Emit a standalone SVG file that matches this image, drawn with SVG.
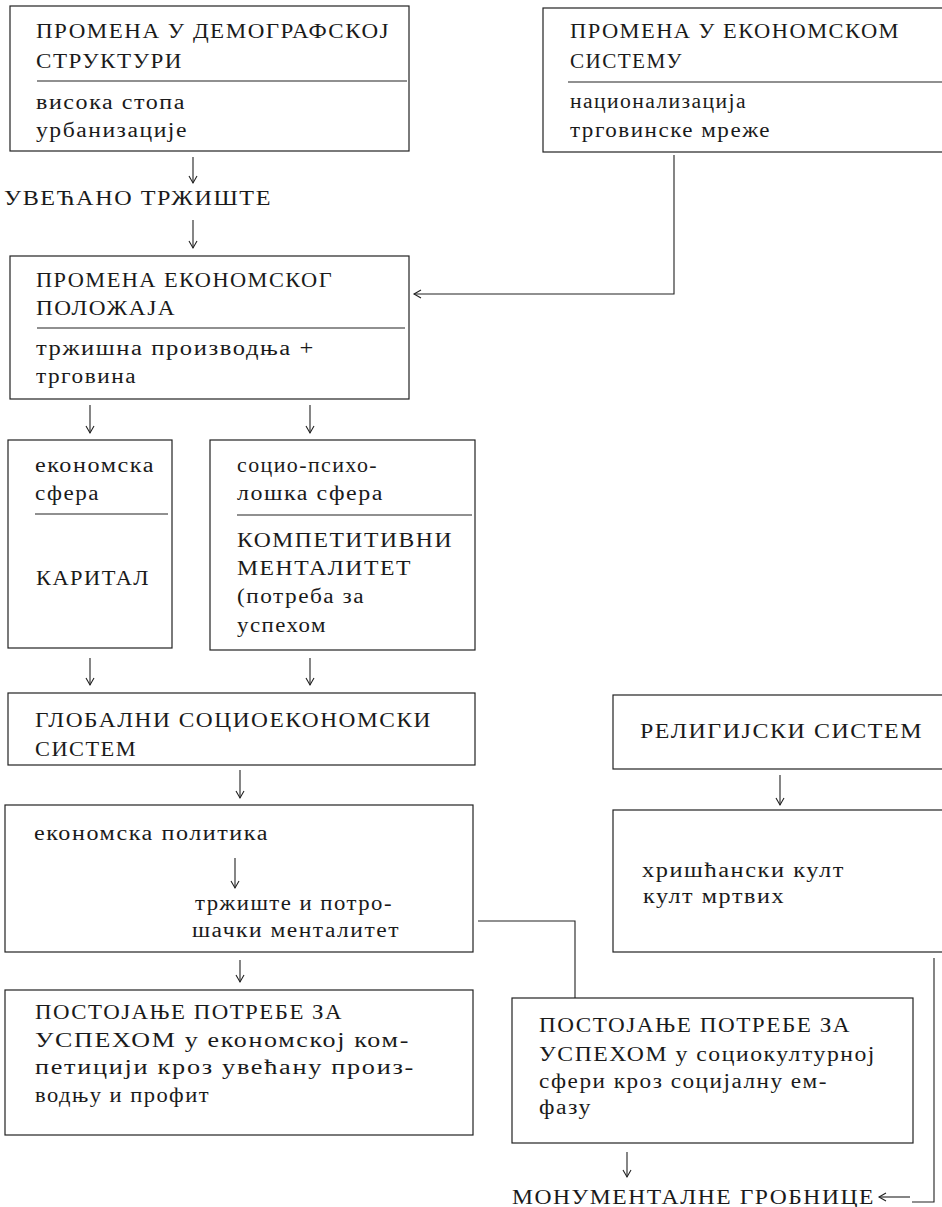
<svg xmlns="http://www.w3.org/2000/svg" width="942" height="1207" viewBox="0 0 942 1207">
<style>
  .box { fill: none; stroke: #222; stroke-width: 1.2; }
  .div { stroke: #222; stroke-width: 1.1; }
  .t { font-family: "Liberation Serif", "Times New Roman", "DejaVu Serif", serif; font-size: 20px; letter-spacing: 1.3px; fill: #1a1a1a; }
  .c { fill: none; stroke: #222; stroke-width: 1.1; }
  .ca { fill: none; stroke: #222; stroke-width: 1.1; marker-end: url(#ah); }
</style>
<defs>
  <marker id="ah" markerUnits="userSpaceOnUse" markerWidth="12" markerHeight="12" refX="0" refY="0" orient="auto" overflow="visible">
    <path d="M-7,-4 L0,0 L-7,4" fill="none" stroke="#222" stroke-width="1.1"/>
  </marker>
</defs>
<rect width="942" height="1207" fill="#ffffff"/>

<g id="connectors">
  <path class="ca" d="M193,157 V183"/>
  <path class="ca" d="M193,220 V248"/>
  <path class="ca" d="M674,155 V294 H414"/>
  <path class="ca" d="M90,405 V433"/>
  <path class="ca" d="M310,405 V433"/>
  <path class="ca" d="M90,658 V685"/>
  <path class="ca" d="M310,658 V685"/>
  <path class="ca" d="M240,770 V798"/>
  <path class="ca" d="M235,858 V888"/>
  <path class="ca" d="M240,960 V982"/>
  <path class="ca" d="M780,775 V805"/>
  <path class="c" d="M478,921 H575 V998"/>
  <path class="ca" d="M627,1152 V1177"/>
  <path class="c" d="M934,958 V1202 H912"/>
  <path class="ca" d="M910,1197 H879"/>
</g>

<g id="n-demografija">
  <rect class="box" x="10" y="6" width="399" height="145"/>
  <line class="div" x1="37" y1="81" x2="407" y2="81"/>
  <text class="t" x="36" y="38" textLength="354" lengthAdjust="spacingAndGlyphs">ПРОМЕНА У ДЕМОГРАФСКОЈ</text>
  <text class="t" x="36" y="68" textLength="147" lengthAdjust="spacingAndGlyphs">СТРУКТУРИ</text>
  <text class="t" x="36" y="109" textLength="150" lengthAdjust="spacingAndGlyphs">висока стопа</text>
  <text class="t" x="36" y="137" textLength="152" lengthAdjust="spacingAndGlyphs">урбанизације</text>
</g>

<g id="n-ekonomski-sistem">
  <rect class="box" x="543" y="8" width="410" height="144"/>
  <line class="div" x1="568" y1="82" x2="942" y2="82"/>
  <text class="t" x="570" y="38" textLength="330" lengthAdjust="spacingAndGlyphs">ПРОМЕНА У ЕКОНОМСКОМ</text>
  <text class="t" x="570" y="68" textLength="113" lengthAdjust="spacingAndGlyphs">СИСТЕМУ</text>
  <text class="t" x="570" y="108" textLength="177" lengthAdjust="spacingAndGlyphs">национализација</text>
  <text class="t" x="570" y="137" textLength="201" lengthAdjust="spacingAndGlyphs">трговинске мреже</text>
</g>

<g id="n-trziste">
  <text class="t" x="4" y="205" textLength="268" lengthAdjust="spacingAndGlyphs">УВЕЋАНО ТРЖИШТЕ</text>
</g>

<g id="n-polozaj">
  <rect class="box" x="10" y="256" width="399" height="143"/>
  <line class="div" x1="37" y1="328" x2="405" y2="328"/>
  <text class="t" x="36" y="287" textLength="297" lengthAdjust="spacingAndGlyphs">ПРОМЕНА ЕКОНОМСКОГ</text>
  <text class="t" x="36" y="315" textLength="140" lengthAdjust="spacingAndGlyphs">ПОЛОЖАЈА</text>
  <text class="t" x="36" y="355" textLength="279" lengthAdjust="spacingAndGlyphs">тржишна производња +</text>
  <text class="t" x="36" y="383" textLength="101" lengthAdjust="spacingAndGlyphs">трговина</text>
</g>

<g id="n-ekonomska-sfera">
  <rect class="box" x="8" y="440" width="164" height="208"/>
  <line class="div" x1="35" y1="514" x2="168" y2="514"/>
  <text class="t" x="35" y="472" textLength="120" lengthAdjust="spacingAndGlyphs">економска</text>
  <text class="t" x="35" y="500" textLength="65" lengthAdjust="spacingAndGlyphs">сфера</text>
  <text class="t" x="36" y="585" textLength="114" lengthAdjust="spacingAndGlyphs">КАРИТАЛ</text>
</g>

<g id="n-socio-sfera">
  <rect class="box" x="210" y="440" width="265" height="210"/>
  <line class="div" x1="237" y1="515" x2="472" y2="515"/>
  <text class="t" x="237" y="472" textLength="141" lengthAdjust="spacingAndGlyphs">социо-психо-</text>
  <text class="t" x="237" y="500" textLength="147" lengthAdjust="spacingAndGlyphs">лошка сфера</text>
  <text class="t" x="237" y="547" textLength="216" lengthAdjust="spacingAndGlyphs">КОМПЕТИТИВНИ</text>
  <text class="t" x="237" y="575" textLength="175" lengthAdjust="spacingAndGlyphs">МЕНТАЛИТЕТ</text>
  <text class="t" x="237" y="603" textLength="128" lengthAdjust="spacingAndGlyphs">(потреба за</text>
  <text class="t" x="237" y="632" textLength="90" lengthAdjust="spacingAndGlyphs">успехом</text>
</g>

<g id="n-globalni">
  <rect class="box" x="8" y="693" width="467" height="72"/>
  <text class="t" x="35" y="727" textLength="397" lengthAdjust="spacingAndGlyphs">ГЛОБАЛНИ СОЦИОЕКОНОМСКИ</text>
  <text class="t" x="35" y="756" textLength="102" lengthAdjust="spacingAndGlyphs">СИСТЕМ</text>
</g>

<g id="n-politika">
  <rect class="box" x="5" y="805" width="468" height="147"/>
  <text class="t" x="34" y="840" textLength="235" lengthAdjust="spacingAndGlyphs">економска политика</text>
  <text class="t" x="195" y="910" textLength="198" lengthAdjust="spacingAndGlyphs">тржиште и потро-</text>
  <text class="t" x="192" y="937" textLength="208" lengthAdjust="spacingAndGlyphs">шачки менталитет</text>
</g>

<g id="n-potreba-ekonomska">
  <rect class="box" x="5" y="990" width="468" height="145"/>
  <text class="t" x="35" y="1019" textLength="308" lengthAdjust="spacingAndGlyphs">ПОСТОЈАЊЕ ПОТРЕБЕ ЗА</text>
  <text class="t" x="35" y="1047" textLength="375" lengthAdjust="spacingAndGlyphs">УСПЕХОМ у економској ком-</text>
  <text class="t" x="35" y="1074" textLength="380" lengthAdjust="spacingAndGlyphs">петицији кроз увећану произ-</text>
  <text class="t" x="35" y="1102" textLength="175" lengthAdjust="spacingAndGlyphs">водњу и профит</text>
</g>

<g id="n-religijski">
  <rect class="box" x="613" y="695" width="340" height="74"/>
  <text class="t" x="640" y="738" textLength="283" lengthAdjust="spacingAndGlyphs">РЕЛИГИЈСКИ СИСТЕМ</text>
</g>

<g id="n-kult">
  <rect class="box" x="613" y="810" width="340" height="142"/>
  <text class="t" x="642" y="877" textLength="203" lengthAdjust="spacingAndGlyphs">хришћански култ</text>
  <text class="t" x="643" y="903" textLength="142" lengthAdjust="spacingAndGlyphs">култ мртвих</text>
</g>

<g id="n-potreba-socio">
  <rect class="box" x="512" y="998" width="401" height="145"/>
  <text class="t" x="539" y="1032" textLength="312" lengthAdjust="spacingAndGlyphs">ПОСТОЈАЊЕ ПОТРЕБЕ ЗА</text>
  <text class="t" x="539" y="1061" textLength="337" lengthAdjust="spacingAndGlyphs">УСПЕХОМ у социокултурној</text>
  <text class="t" x="539" y="1088" textLength="289" lengthAdjust="spacingAndGlyphs">сфери кроз социјалну ем-</text>
  <text class="t" x="539" y="1114" textLength="53" lengthAdjust="spacingAndGlyphs">фазу</text>
</g>

<g id="n-grobnice">
  <text class="t" x="512" y="1204" textLength="363" lengthAdjust="spacingAndGlyphs">МОНУМЕНТАЛНЕ ГРОБНИЦЕ</text>
</g>
</svg>
